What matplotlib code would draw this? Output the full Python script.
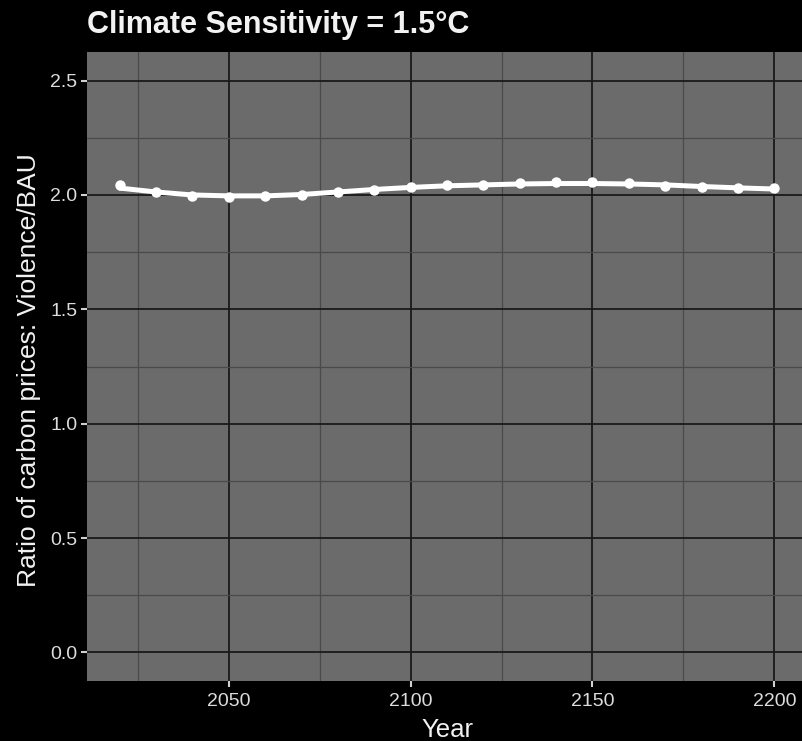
"""Ratio of carbon prices (violence vs BAU) for a 1.5°C climate sensitivity."""

import matplotlib
matplotlib.use("Agg")
import matplotlib.pyplot as plt
from matplotlib.ticker import MultipleLocator

plt.rcParams["font.family"] = ["Liberation Sans", "DejaVu Sans"]

years = [2020, 2030, 2040, 2050, 2060, 2070, 2080, 2090, 2100, 2110,
         2120, 2130, 2140, 2150, 2160, 2170, 2180, 2190, 2200]
ratio = [2.044, 2.012, 1.994, 1.990, 1.994, 2.001, 2.014, 2.023, 2.034, 2.043,
         2.045, 2.051, 2.055, 2.055, 2.051, 2.041, 2.036, 2.031, 2.029]
trend = [2.030, 2.013, 2.000, 1.996, 1.996, 2.002, 2.013, 2.024, 2.033, 2.040,
         2.044, 2.048, 2.050, 2.050, 2.048, 2.044, 2.037, 2.031, 2.026]

x_ticks = [2050, 2100, 2150, 2200]
y_ticks = [0.0, 0.5, 1.0, 1.5, 2.0, 2.5]

BG = "#000000"
PANEL = "#6b6b6b"
FG = "#f2f2f2"
TICK_TXT = "#dcdcdc"

W, H = 802, 741
fig = plt.figure(figsize=(W / 100, H / 100), dpi=100, facecolor=BG)

# panel runs a bit past the right edge, as in the saved plot
left, right, top, bottom = 87, 807, 52, 681
ax = fig.add_axes([left / W, 1 - bottom / H, (right - left) / W, (bottom - top) / H])
ax.set_facecolor(PANEL)

ax.plot(years, trend, color="white", linewidth=3.6, solid_capstyle="round", zorder=3)
ax.plot(years, ratio, linestyle="none", marker="o", markersize=7.5,
        color="white", markeredgewidth=0, zorder=4)

ax.set_xlim(2011, 2209)
ax.set_ylim(-0.125, 2.625)
ax.set_xticks(x_ticks)
ax.set_yticks(y_ticks)
ax.set_yticklabels([f"{v:.1f}" for v in y_ticks])
ax.xaxis.set_minor_locator(MultipleLocator(25))
ax.yaxis.set_minor_locator(MultipleLocator(0.25))

ax.grid(which="major", color="#1a1a1a", linewidth=1.3, zorder=1)
ax.grid(which="minor", color="#4a4a4a", linewidth=0.9, zorder=1)
ax.set_axisbelow(True)

for side in ax.spines.values():
    side.set_visible(False)

ax.tick_params(which="major", length=4.5, width=1.5, color="#d0d0d0",
               labelcolor=TICK_TXT, labelsize=14)
ax.tick_params(axis="x", pad=4)
ax.tick_params(axis="y", pad=2.5)
ax.tick_params(which="minor", length=0)

# axis titles placed in figure pixels
fig.text((left + right) / 2 / W, 1 - 737 / H, "Year", color=FG,
         fontsize=18.5, ha="center", va="baseline")
fig.text(29 / W, 1 - 370 / H, "Ratio of carbon prices: Violence/BAU", color=FG,
         fontsize=19, rotation=90, ha="center", va="center")

fig.text(left / W, 1 - 33 / H, "Climate Sensitivity = 1.5°C", color=FG,
         fontsize=22, fontweight="bold", ha="left", va="baseline")

fig.savefig("out.png", dpi=100, facecolor=BG)
plt.close(fig)
